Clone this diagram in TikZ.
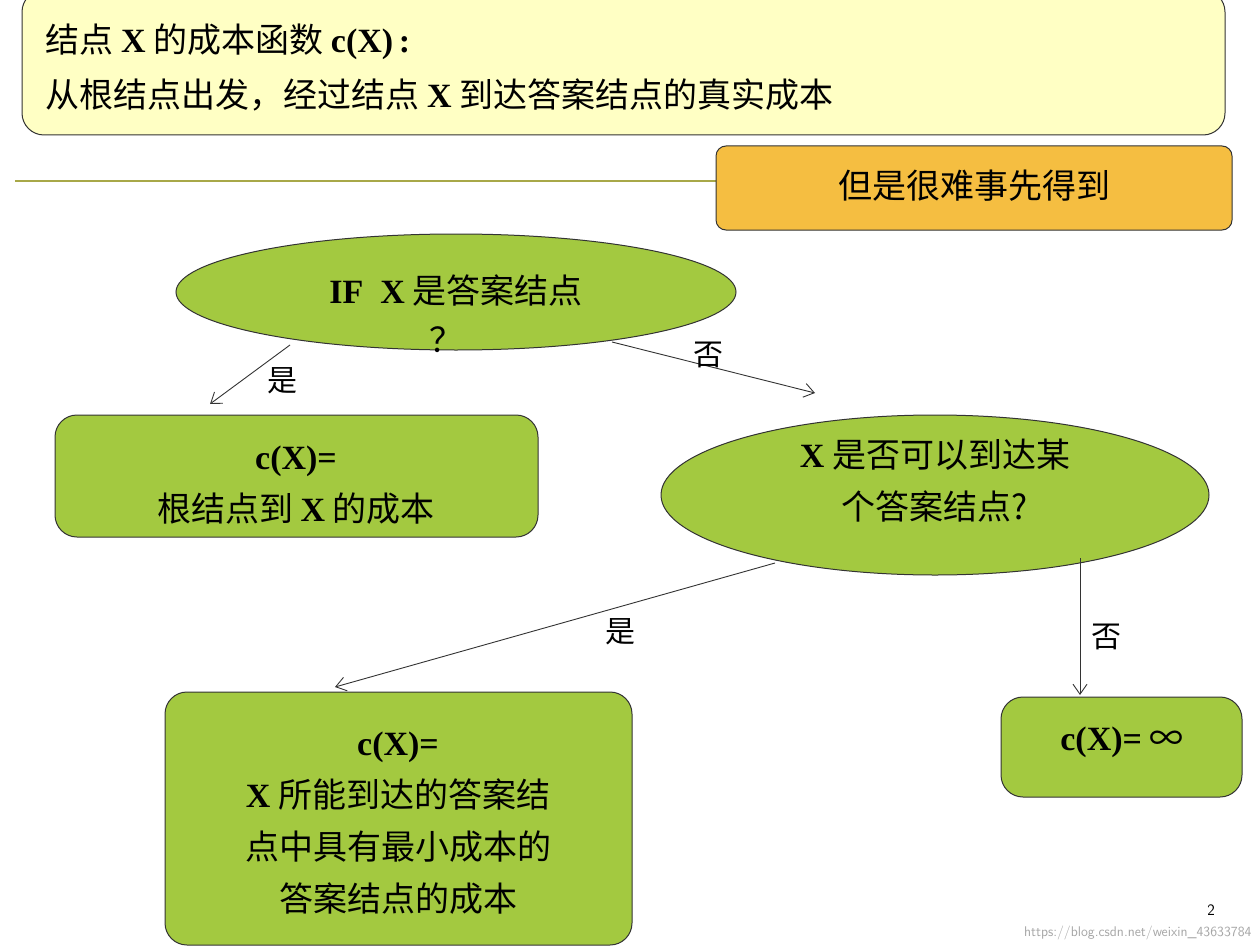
\documentclass[tikz,border=0pt]{standalone}
\usepackage{fontspec}
\setmainfont{Liberation Serif}
\newfontfamily\cjk{Noto Sans CJK SC}
\usetikzlibrary{arrows.meta,shapes.geometric}
\definecolor{gfill}{HTML}{A3C940}
\definecolor{yfill}{HTML}{FFFFC4}
\definecolor{ofill}{HTML}{F5BE41}
\definecolor{olive}{HTML}{A8A848}
\tikzset{
  txt/.style={font=\fontsize{34}{52}\selectfont\cjk, align=center},
  lat/.style={},
  gbox/.style={draw=black!80, fill=gfill, rounded corners=22pt, line width=1pt},
  arr/.style={-{Straight Barb[length=10pt,width=14pt]}, line width=0.9pt, draw=black!80},
  lbl/.style={font=\fontsize{30}{36}\selectfont\cjk}
}
\newcommand{\B}[1]{{\bfseries\rmfamily #1}}
\begin{document}
\begin{tikzpicture}[x=1pt,y=-1pt]
\useasboundingbox (0,0) rectangle (1260,952);
\fill[white] (0,0) rectangle (1260,952);
% top box
\draw[draw=black!80, fill=yfill, rounded corners=22pt, line width=1pt] (22,-10) rectangle (1225,135);
\node[txt, anchor=west] (t1) at (42,42) {结点 \B{X} 的成本函数 \B{c(X)}\,\B{:}};
\node[txt, anchor=west] (t2) at (42,95) {从根结点出发，经过结点 \B{X} 到达答案结点的真实成本};
\draw[olive, line width=1.5pt] (15,181) -- (716,181);
\draw[draw=black!80, fill=ofill, rounded corners=10pt, line width=1pt] (716,146) rectangle (1232,230);
\node[txt] (o) at (974,186) {但是很难事先得到};
% ellipse 1
\node[draw=black!80, fill=gfill, ellipse, line width=1pt, minimum width=560pt, minimum height=116pt] (e1) at (456,292) {};
\node[txt] at (456,290) {\B{IF\ \ X} 是答案结点};
\node[txt] at (446,340) {？};
% left box
\draw[gbox] (55,415) rectangle (538,537);
\node[txt] (b1) at (296,485) {\B{c(X)=}\\根结点到 \B{X} 的成本};
% ellipse 2
\node[draw=black!80, fill=gfill, ellipse, line width=1pt, minimum width=548pt, minimum height=160pt] (e2) at (935,495) {};
\node[txt] at (935,481) {\B{X} 是否可以到达某\\个答案结点?};
% bottom left
\draw[gbox] (165,692) rectangle (632,945);
\node[txt] (b2) at (398,823) {\B{c(X)=}\\\B{X} 所能到达的答案结\\点中具有最小成本的\\答案结点的成本};
% right box
\draw[gbox] (1001,697) rectangle (1242,797);
\node[txt] (b3) at (1122,742) {\B{c(X)=} ∞};
% arrows
\coordinate (a1s) at (290,345); \coordinate (a1e) at (210,404);
\coordinate (a2s) at (612,342); \coordinate (a2e) at (815,393);
\coordinate (a3s) at (775,563); \coordinate (a3e) at (335,687);
\coordinate (a4s) at (1080,558); \coordinate (a4e) at (1080,695);
\draw[arr] (a1s) -- (a1e);
\draw[arr] (a2s) -- (a2e);
\draw[arr] (a3s) -- (a3e);
\draw[arr] (a4s) -- (a4e);
\node[lbl] (l1) at (282,381) {是};
\node[lbl] (l2) at (708,355) {否};
\node[lbl] (l3) at (620,632) {是};
\node[lbl] (l4) at (1106,637) {否};
\node[font=\fontsize{16}{18}\selectfont\sffamily] (pg) at (1211,910) {2};
\node[font=\fontsize{14}{16}\selectfont\sffamily, text=black!35, anchor=east] (wm) at (1255,933) {https://blog.csdn.net/weixin\_43633784};
\end{tikzpicture}
\end{document}
